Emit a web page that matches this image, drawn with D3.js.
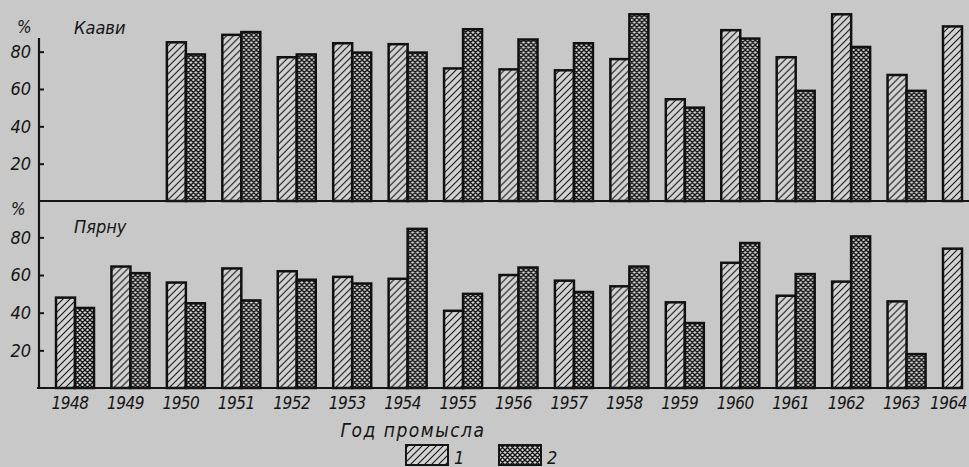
<!DOCTYPE html>
<meta charset="utf-8">
<style>
body {
  margin: 0;
  background: #c8c8c8;
}
svg {
  display: block;
}
.lbl {
  font-family: "Liberation Sans Narrow", "DejaVu Sans Condensed", sans-serif;
  font-style: italic;
  fill: #151515;
}
.axis text {
  font-family: "Liberation Sans Narrow", "DejaVu Sans Condensed", sans-serif;
  font-style: italic;
  font-size: 18px;
  fill: #151515;
}
.axis line {
  stroke: #151515;
  stroke-width: 2;
}
.bar {
  stroke: #111;
  stroke-width: 2.5;
}
</style>
<body>
<svg width="969" height="467"></svg>
<script src="https://cdnjs.cloudflare.com/ajax/libs/d3/7.8.5/d3.min.js"></script>
<script>
// values (percent)
var years = [1948, 1949, 1950, 1951, 1952, 1953, 1954, 1955, 1956, 1957, 1958, 1959, 1960, 1961, 1962, 1963, 1964];
var kaavi1 = [null, null, 85, 89, 77, 84.5, 84, 71, 70.5, 70, 76, 54.5, 91.5, 77, 100, 67.5, 93.5];
var kaavi2 = [null, null, 78.5, 90.5, 78.5, 79.5, 79.5, 92, 86.5, 84.5, 100, 50, 87, 59, 82.5, 59, null];
var parnu1 = [48, 64.5, 56, 63.5, 62, 59, 58, 41, 60, 57, 54, 45.5, 66.5, 49, 56.5, 46, 74];
var parnu2 = [42.5, 61, 45, 46.5, 57.5, 55.5, 84.5, 50, 64, 51, 64.5, 34.5, 77, 60.5, 80.5, 18, null];
var yTicks = [20, 40, 60, 80];

var svg = d3.select("svg");
var ink = "#151515";

// hatch patterns
var defs = svg.append("defs");
var p1 = defs.append("pattern").attr("id", "hatch")
    .attr("patternUnits", "userSpaceOnUse").attr("width", 7).attr("height", 7);
p1.append("rect").attr("width", 7).attr("height", 7).attr("fill", "#d3d3d3");
p1.append("path").attr("d", "M0,7L7,0M-1.5,1.5L1.5,-1.5M5.5,8.5L8.5,5.5")
    .attr("stroke", ink).attr("stroke-width", 1.1);

var p2 = defs.append("pattern").attr("id", "cross")
    .attr("patternUnits", "userSpaceOnUse").attr("width", 5).attr("height", 5);
p2.append("rect").attr("width", 5).attr("height", 5).attr("fill", "#d6d6d6");
p2.append("path").attr("d", "M0,5L5,0M-1,1L1,-1M4,6L6,4M0,0L5,5M-1,4L1,6M4,-1L6,1")
    .attr("stroke", ink).attr("stroke-width", 1.4);

var x = d3.scalePoint().domain(years).range([75, 962]);
var xs = d3.scaleBand().domain([0, 1]).range([-19, 19]);

var axisX = 39;

function panel(y, s1, s2, x1, x2) {
  var rows = years.map(function(yr, i) { return {year: yr, v: [s1[i], s2[i]]}; });
  var g = svg.append("g");
  var grp = g.selectAll(".grp").data(rows).enter().append("g")
      .attr("transform", function(d) { return "translate(" + x(d.year) + ",0)"; });
  grp.selectAll("rect")
    .data(function(d) { return d.v.map(function(v, k) { return {k: k, v: v}; }).filter(function(e) { return e.v != null; }); })
    .enter().append("rect")
      .attr("class", "bar")
      .attr("x", function(e) { return xs(e.k); })
      .attr("width", xs.bandwidth())
      .attr("y", function(e) { return y(e.v); })
      .attr("height", function(e) { return y(0) - y(e.v); })
      .attr("fill", function(e) { return e.k === 0 ? "url(#hatch)" : "url(#cross)"; });

  g.append("line")
      .attr("x1", x1).attr("x2", x2)
      .attr("y1", y(0)).attr("y2", y(0))
      .attr("stroke", ink).attr("stroke-width", 2.2);

  var ax = g.append("g").attr("class", "axis")
      .attr("transform", "translate(" + axisX + ",0)")
      .call(d3.axisLeft(y).tickValues(yTicks).tickSizeInner(-5).tickSizeOuter(0).tickPadding(8));
  ax.select(".domain").remove();
}

var yTop = d3.scaleLinear().domain([0, 100]).range([201, 14.3]);
var yBot = d3.scaleLinear().domain([0, 100]).range([388, 199.7]);

panel(yTop, kaavi1, kaavi2, axisX, 969);
panel(yBot, parnu1, parnu2, 37, 962);

// vertical axis line through both panels
svg.append("line")
    .attr("x1", axisX).attr("x2", axisX)
    .attr("y1", 38).attr("y2", yBot(0))
    .attr("stroke", ink).attr("stroke-width", 2.2);

// percent signs and station names
svg.append("text").attr("class", "lbl").attr("x", 17).attr("y", 33)
    .style("font-size", "17px").text("%");
svg.append("text").attr("class", "lbl").attr("x", 11).attr("y", 215)
    .style("font-size", "17px").text("%");
svg.append("text").attr("class", "lbl").attr("x", 74).attr("y", 34)
    .style("font-size", "18px").text("Каави");
svg.append("text").attr("class", "lbl").attr("x", 74).attr("y", 233)
    .style("font-size", "18px").text("Пярну");

// year labels
var last = years[years.length - 1];
svg.append("g").selectAll("text").data(years).enter().append("text")
    .attr("class", "lbl")
    .attr("x", function(d) { return d === last ? 967 : x(d) - 5; })
    .attr("y", 409)
    .attr("text-anchor", function(d) { return d === last ? "end" : "middle"; })
    .style("font-size", "17px")
    .style("letter-spacing", "-0.5px")
    .text(function(d) { return d; });

svg.append("text").attr("class", "lbl")
    .attr("x", 413).attr("y", 437)
    .attr("text-anchor", "middle")
    .style("font-size", "19px")
    .style("letter-spacing", "1.5px")
    .text("Год промысла");

// legend
var legend = [{id: "hatch", label: "1", x: 406}, {id: "cross", label: "2", x: 499}];
var lg = svg.append("g").selectAll("g").data(legend).enter().append("g");
lg.append("rect")
    .attr("x", function(d) { return d.x; }).attr("y", 445)
    .attr("width", 42).attr("height", 20)
    .attr("fill", function(d) { return "url(#" + d.id + ")"; })
    .attr("stroke", ink).attr("stroke-width", 2);
lg.append("text").attr("class", "lbl")
    .attr("x", function(d) { return d.x + 48; }).attr("y", 464)
    .style("font-size", "18px")
    .text(function(d) { return d.label; });
</script>
</body>
